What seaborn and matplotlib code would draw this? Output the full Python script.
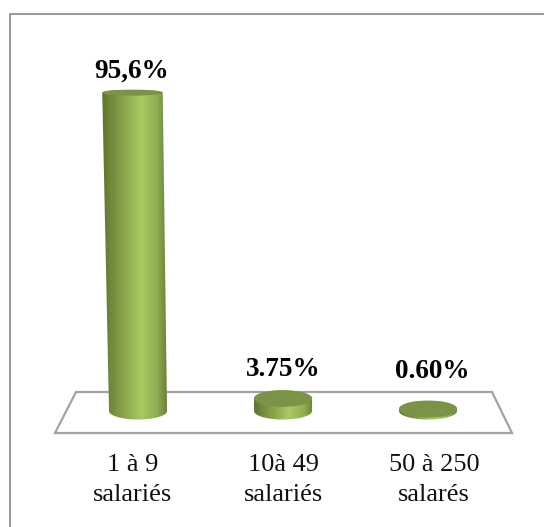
import numpy as np
import pandas as pd
import matplotlib
matplotlib.use("Agg")
import matplotlib.pyplot as plt
import seaborn as sns
from matplotlib.colors import LinearSegmentedColormap
from matplotlib.lines import Line2D
from matplotlib.patches import PathPatch, Polygon
from matplotlib.path import Path

categories = ["1 à 9\nsalariés", "10à 49\nsalariés", "50 à 250\nsalarés"]
shares = [95.6, 3.75, 0.60]
share_labels = ["95,6%", "3.75%", "0.60%"]

sns.set_style("white")
plt.rcParams["font.family"] = ["Liberation Serif", "DejaVu Serif"]

W, H = 544, 527
GREY = "#a3a3a3"

fig = plt.figure(figsize=(W / 100, H / 100), dpi=100)
# axes box in pixels: x 40-530, y 50-433
ax = fig.add_axes([40 / W, 1 - 433 / H, 490 / W, 383 / H])

df = pd.DataFrame({"category": categories, "share": shares})
sns.barplot(data=df, x="category", y="share", width=0.4, color="#a6c660", ax=ax)

ax.set_xlim(-0.676, 2.703)
ax.set_ylim(-6.6, 108.4)

# px to data factors, used for the fake 3d shape
px_x = 3.379 / 490
px_y = 115.0 / 383

cmap = LinearSegmentedColormap.from_list(
    "cyl", [(0, "#5e7331"), (0.12, "#6f8739"), (0.6, "#a9ca63"), (0.85, "#8fad50"), (1, "#6a8338")]
)
t = np.linspace(0, np.pi, 60)

for i, bar in enumerate(list(ax.patches)):
    v = bar.get_height()
    cx = bar.get_x() + bar.get_width() / 2
    half = bar.get_width() / 2
    # cylinder leans away from the middle and gets flatter as it goes up
    top_cx = cx + (i - 1) * v * 0.058 * px_x
    top_half = half + v * 0.013 * px_x
    b_minor = 8.5 * px_y
    t_minor = (8.5 - 5.5 * v / 95.6) * px_y
    bar.set_visible(False)

    lower_x = cx - half * np.cos(t)
    lower_y = -b_minor * np.sin(t)
    upper_x = top_cx + top_half * np.cos(t)
    upper_y = v + t_minor * np.sin(t)
    pts = np.column_stack([np.r_[lower_x, upper_x], np.r_[lower_y, upper_y]])
    pts = np.vstack([pts, pts[0]])
    outline = PathPatch(Path(pts), transform=ax.transData, fc="none", ec="none")
    ax.add_patch(outline)

    x0, x1 = pts[:, 0].min(), pts[:, 0].max()
    y0, y1 = pts[:, 1].min(), pts[:, 1].max()
    im = ax.imshow(
        np.linspace(0, 1, 256).reshape(1, -1), cmap=cmap, aspect="auto",
        extent=(x0, x1, y0, y1), zorder=3, interpolation="bilinear",
    )
    im.set_clip_path(outline)

    a = np.linspace(0, 2 * np.pi, 120)
    ax.add_patch(Polygon(
        np.column_stack([top_cx + top_half * np.cos(a), v + t_minor * np.sin(a)]),
        closed=True, fc="#7b9346", ec="none", zorder=4,
    ))

ax.set_xlim(-0.676, 2.703)
ax.set_ylim(-6.6, 108.4)

# floor of the 3d chart
floor = [(55, 433), (512, 433), (492, 392), (76, 392)]
floor = [((x - 40) / 490, (433 - y) / 383) for x, y in floor]
ax.add_patch(Polygon(floor, closed=True, fc="white", ec=GREY, lw=1.6,
                     transform=ax.transAxes, zorder=1, clip_on=False))

# value labels, they do not sit at the same distance from the bars
label_pads = [9, 17, 25]
label_shift = [-6, 0.5, 4.5]
for i, (v, txt) in enumerate(zip(shares, share_labels)):
    ax.annotate(txt, (i, v), xytext=(label_shift[i] * 0.72, label_pads[i] * 0.72),
                textcoords="offset points", ha="center", va="bottom",
                fontsize=19.5, fontweight="bold", color="black", zorder=5)

ticks = np.arange(3)
ax.set_xticks(ticks + (ticks - 1) * 0.04, categories)
ax.set_yticks([])
ax.tick_params(axis="x", length=0, pad=15, labelsize=19, labelcolor="#111111")
for lab in ax.get_xticklabels():
    lab.set_linespacing(1.5)
ax.set_xlabel("")
ax.set_ylabel("")
ax.patch.set_alpha(0)
sns.despine(ax=ax, left=True, bottom=True)

# picture frame, only left and top edges are inside the crop
fig.add_artist(Line2D([9.5 / W, 9.5 / W, 1], [0, 1 - 13.5 / H, 1 - 13.5 / H],
                      color="#909090", lw=1.3))

fig.savefig("out.png", dpi=100)
